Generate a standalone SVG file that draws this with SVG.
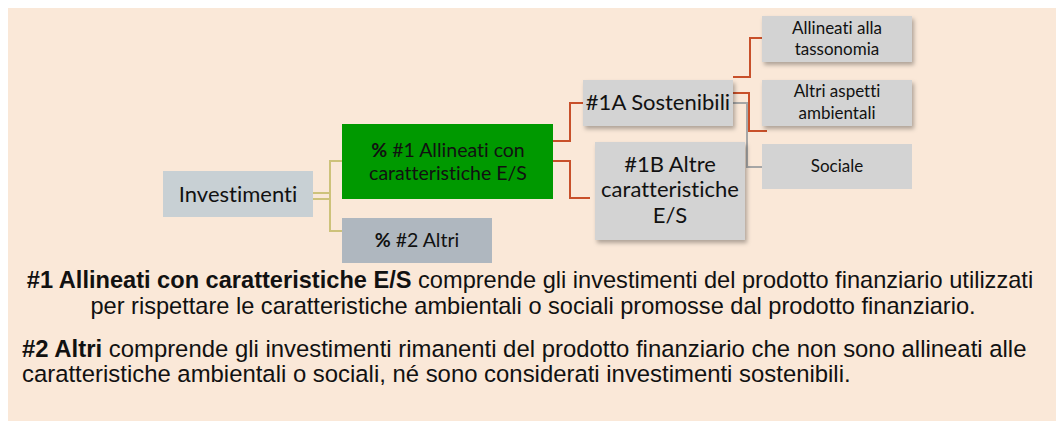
<svg xmlns="http://www.w3.org/2000/svg" width="1056" height="421" viewBox="0 0 1056 421">
<style>
.n{font-family:Lato,"Open Sans",sans-serif;fill:#111;text-anchor:middle;font-variant-ligatures:none}
.b{font-family:"Liberation Sans",Arial,sans-serif;fill:#111;font-size:23.6px}
.b2{font-size:23.9px}
.ol{stroke:#CDC27A;stroke-width:2;fill:none}
.rd{stroke:#C8502A;stroke-width:2;fill:none}
.gy{stroke:#A6A6A6;stroke-width:2;fill:none}
</style>
<defs>
<filter id="sh" x="-10%" y="-10%" width="130%" height="140%">
<feDropShadow dx="2" dy="3" stdDeviation="2" flood-color="#000" flood-opacity="0.3"/>
</filter>
</defs>
<rect x="8" y="8" width="1048" height="413" fill="#FAE8D8"/>
<g id="connectors">
<line class="ol" x1="313" y1="193" x2="330" y2="193"/>
<line class="ol" x1="313" y1="199" x2="330" y2="199"/>
<polyline class="ol" points="342,161 330,161 330,231 342,231"/>
<polyline class="rd" points="553,141 570,141 570,103 583,103"/>
<polyline class="rd" points="553,161 570,161 570,198 590,198"/>
<polyline class="rd" points="733,77 750,77 750,38 762,38"/>
<polyline class="rd" points="733,93 749,93 749,131 767,131"/>
<polyline class="gy" points="733,103 747,103 747,167 762,167"/>
</g>
<g id="n-investimenti">
<rect x="163" y="171" width="150" height="46" fill="#C8D0D4"/>
<text class="n" x="238" y="202" font-size="22">Investimenti</text>
</g>
<g id="n-allineati">
<rect x="342" y="124" width="211" height="75" fill="#009900"/>
<text class="n" x="448" y="157" font-size="19.5"><tspan font-weight="bold">%</tspan> #1 Allineati con</text>
<text class="n" x="448" y="180" font-size="19.5">caratteristiche E/S</text>
</g>
<g id="n-altri">
<rect x="342" y="218" width="150" height="45" fill="#AFB7BF"/>
<text class="n" x="417" y="247" font-size="19.5"><tspan font-weight="bold">%</tspan> #2 Altri</text>
</g>
<g id="n-1a">
<rect x="583" y="80" width="150" height="46" fill="#D3D3D3" filter="url(#sh)"/>
<text class="n" x="658" y="110" font-size="22">#1A Sostenibili</text>
</g>
<g id="n-1b">
<rect x="595" y="142" width="150" height="98" fill="#D3D3D3" filter="url(#sh)"/>
<text class="n" x="670" y="172" font-size="22">#1B Altre</text>
<text class="n" x="670" y="197" font-size="22">caratteristiche</text>
<text class="n" x="670" y="223" font-size="22">E/S</text>
</g>
<g id="n-tassonomia">
<rect x="762" y="16" width="150" height="46" fill="#D3D3D3" filter="url(#sh)"/>
<text class="n" x="837" y="34" font-size="17">Allineati alla</text>
<text class="n" x="837" y="55" font-size="17">tassonomia</text>
</g>
<g id="n-ambientali">
<rect x="762" y="80" width="150" height="46" fill="#D3D3D3" filter="url(#sh)"/>
<text class="n" x="837" y="97" font-size="17">Altri aspetti</text>
<text class="n" x="837" y="119" font-size="17">ambientali</text>
</g>
<g id="n-sociale">
<rect x="762" y="144" width="150" height="45" fill="#D3D3D3"/>
<text class="n" x="837" y="172" font-size="17">Sociale</text>
</g>
<g id="legend">
<text class="b" x="530" y="288" text-anchor="middle"><tspan font-weight="bold">#1 Allineati con caratteristiche E/S</tspan> comprende gli investimenti del prodotto finanziario utilizzati</text>
<text class="b" x="533" y="314" text-anchor="middle">per rispettare le caratteristiche ambientali o sociali promosse dal prodotto finanziario.</text>
<text class="b b2" x="22" y="357"><tspan font-weight="bold">#2 Altri</tspan> comprende gli investimenti rimanenti del prodotto finanziario che non sono allineati alle</text>
<text class="b b2" x="22" y="382">caratteristiche ambientali o sociali, né sono considerati investimenti sostenibili.</text>
</g>
</svg>
